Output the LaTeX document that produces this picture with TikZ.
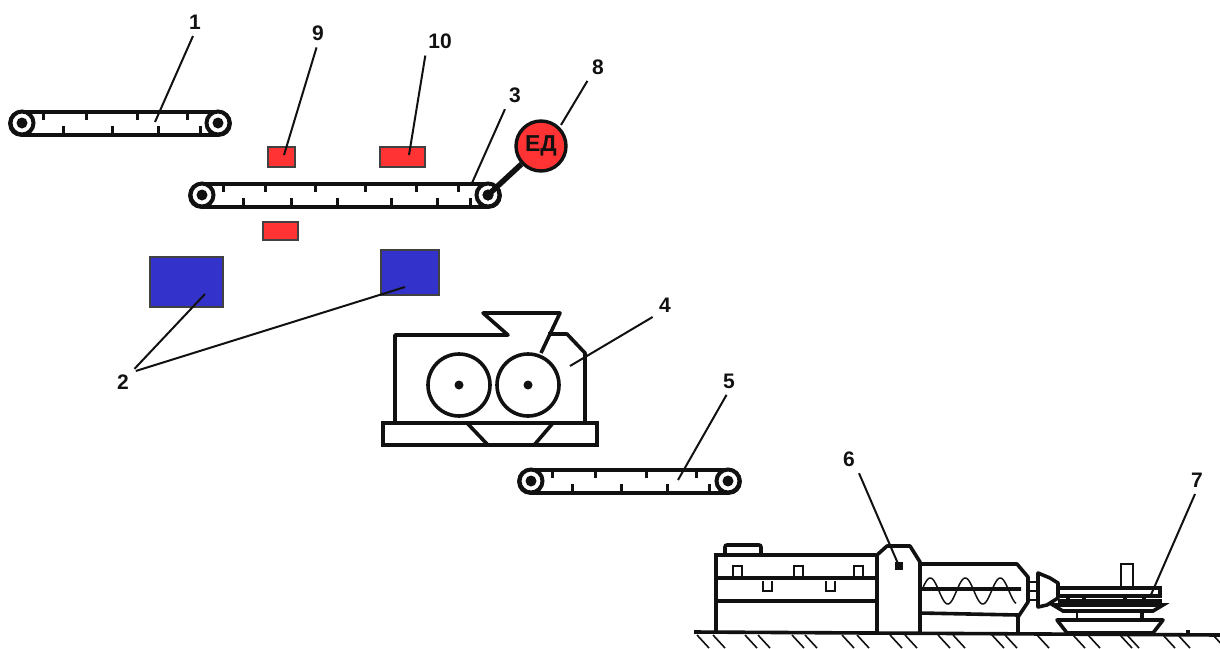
\documentclass[tikz,border=0pt]{standalone}
\usepackage{fontspec}
\setmainfont{Liberation Sans}
\usepackage{xcolor}
\usetikzlibrary{positioning}
\definecolor{boxred}{HTML}{FF3333}
\definecolor{boxblue}{HTML}{3333CC}
\definecolor{ink}{HTML}{111111}
\tikzset{
  label/.style={font=\bfseries\fontsize{21}{25}\selectfont,inner sep=2pt,text=ink},
  leader/.style={ink,line width=2pt,shorten <=5pt},
  heavy/.style={ink,line width=3.6pt},
  medium/.style={ink,line width=2.4pt},
  thin part/.style={ink,line width=1.5pt},
  belttick/.style={ink,line width=3pt},
  pulley/.style={circle,draw=ink,fill=white,line width=4pt,minimum size=23pt,inner sep=0pt},
  redbox/.style={draw=ink!80,fill=boxred,line width=2pt,inner sep=0pt},
  bluebox/.style={draw=ink!80,fill=boxblue,line width=1.2pt,inner sep=0pt},
}
% name, left x, right x, y, top ticks, bottom ticks, lumps
\newcommand{\conveyor}[7]{
  \draw[heavy,fill=white,rounded corners=11pt] (#2-12,#4-11) rectangle (#3+12,#4+12);
  \foreach \t in {#5} \draw[belttick] (\t,#4-11) -- (\t,#4-3);
  \foreach \t in {#6} \draw[belttick] (\t,#4+12) -- (\t,#4+3);
  \foreach \t in {#7} \fill[ink] (\t-4,#4+10) rectangle (\t+4,#4+14);
  \node[pulley] (#1l) at (#2,#4) {};
  \node[pulley] (#1r) at (#3,#4) {};
  \fill[ink] (#1l) circle (5.5); \fill[ink] (#1r) circle (5.5);
}
\begin{document}
\begin{tikzpicture}[x=1pt,y=-1pt]
  \useasboundingbox (0,0) rectangle (1220,648);

  \conveyor{beltA}{22}{218}{123}{43,86,137,187}{63,112,158,200}{126}
  \conveyor{beltB}{202}{488}{195}{223,265,315,365,416,458}{243,291,337,391,437,470}{305,405}
  \conveyor{beltC}{531}{728}{481}{552,595,646,696}{572,621,667,709}{635}

  \node[circle,draw=ink,fill=boxred,line width=3.4pt,minimum size=50pt,inner sep=0pt,
        font=\bfseries\fontsize{23}{27}\selectfont,text=ink] (motor) at (541,146) {ЕД};
  \draw[ink,line width=5.5pt] (beltBr.center) -- (motor);
  \fill[ink] (beltBr) circle (5.5);

  \node[redbox,minimum width=27pt,minimum height=20pt] (sensorA) at (281.5,157) {};
  \node[redbox,minimum width=45pt,minimum height=20pt] (sensorB) at (402.5,157) {};
  \node[redbox,minimum width=35pt,minimum height=18pt] (sensorC) at (280.5,231) {};
  \node[bluebox,minimum width=73pt,minimum height=50pt] (magnetA) at (186.5,282) {};
  \node[bluebox,minimum width=58pt,minimum height=45pt] (magnetB) at (410,272.5) {};

  \draw[heavy,line join=round] (395,422) -- (395,335) -- (508,335) -- (483,313) -- (560,313) -- (541,353);
  \draw[heavy,line join=round] (548,334) -- (567,334) -- (585,353) -- (585,422);
  \draw[heavy] (383,423) rectangle (597,445);
  \draw[heavy] (467,423) -- (487,444) (553,423) -- (535,444);
  \node[circle,draw=ink,line width=3.6pt,minimum size=62pt,inner sep=0pt] (rollA) at (459,385) {};
  \node[circle,draw=ink,line width=3.6pt,minimum size=62pt,inner sep=0pt] (rollB) at (528,385) {};
  \fill[ink] (rollA) circle (4.5); \fill[ink] (rollB) circle (4.5);

  \draw[heavy] (694,632) -- (1220,635);
  \foreach \h in {697,713,745,758,792,805,842,857,890,905,938,953,992,1005,1037,1073,1088,1120,1127,1163,1178,1213}
    \draw[ink,line width=1.6pt] (\h,635) -- (\h+12,648);
  \draw[heavy] (716,633) -- (716,555) -- (876,555);
  \draw[heavy] (716,578) -- (876,578) (716,601) -- (876,601);
  \draw[heavy,rounded corners=2pt] (725,553) -- (725,545) -- (761,545) -- (761,553);
  \foreach \s in {733,794,854} \draw[thin part] (\s,576) -- (\s,566) -- (\s+9,566) -- (\s+9,576);
  \foreach \s in {763,826} \draw[thin part] (\s,581) -- (\s,591) -- (\s+9,591) -- (\s+9,581);
  \draw[heavy,line join=round] (877,633) -- (877,555) -- (887,546) -- (910,546) -- (920,562) -- (920,633);
  \fill[ink] (895,562) rectangle (903,570);
  \draw[heavy,line join=round] (920,564) -- (1017,564) -- (1028,577) -- (1028,602) -- (1018,617) -- (1018,633);
  \draw[heavy] (920,589) -- (1021,589) (920,613) -- (1018,615);
  \draw[ink,line width=1.5pt,samples=120,domain=923:1016] plot (\x,{591+13*sin(10.2857*(\x-939))});
  \draw[medium] (1028,582) rectangle (1038,600) (1028,591) -- (1038,591);
  \draw[heavy,line join=round] (1038,573) -- (1050,578) -- (1058,583) -- (1058,598) -- (1047,605) -- (1038,607) -- cycle;
  \draw[medium] (1121,587) -- (1121,564) -- (1133,564) -- (1133,587);
  \draw[heavy] (1058,588) -- (1160,588) -- (1160,596) -- (1058,596);
  \draw[heavy] (1058,601) -- (1162,601);
  \draw[heavy] (1053,605) -- (1063,611) -- (1153,611) -- (1163,605) -- cycle;
  \foreach \s in {1066,1082,1123,1142} \fill[ink] (\s,597) rectangle (\s+4,606);
  \draw[medium] (1077,611) -- (1077,620);
  \draw[ink,line width=4.5pt] (1142,611) -- (1142,622);
  \draw[heavy,line join=round] (1057,620) -- (1163,620) -- (1153,633) -- (1067,633) -- cycle;
  \fill[ink] (1186,630) rectangle (1190,634);

  \node[label] (lab1) at (195,22) {1};
  \node[label] (lab2) at (123,382) {2};
  \node[label] (lab3) at (515,95) {3};
  \node[label] (lab4) at (665,305) {4};
  \node[label] (lab5) at (729,381) {5};
  \node[label] (lab6) at (849,459) {6};
  \node[label] (lab7) at (1197,480) {7};
  \node[label] (lab8) at (598,67) {8};
  \node[label] (lab9) at (318,33) {9};
  \node[label] (lab10) at (440,41) {10};
  \coordinate (end1) at (155,122);
  \coordinate (end2a) at (205,294);
  \coordinate (end2b) at (405,287);
  \coordinate (end3) at (472,183);
  \coordinate (end4) at (570,366);
  \coordinate (end5) at (678,480);
  \coordinate (end6) at (899,566);
  \coordinate (end7) at (1150,597);
  \coordinate (end8) at (561,125);
  \coordinate (end9) at (284,155);
  \coordinate (end10) at (409,155);
  \foreach \a/\b in {lab1.south/end1,lab2.north east/end2a,lab2.north east/end2b,lab3.south west/end3,lab4.south west/end4,lab5.south/end5,lab6.south east/end6,lab7.south/end7,lab8.south west/end8,lab9.south/end9,lab10.south west/end10}
    \draw[leader] (\a) -- (\b);
\end{tikzpicture}
\end{document}
